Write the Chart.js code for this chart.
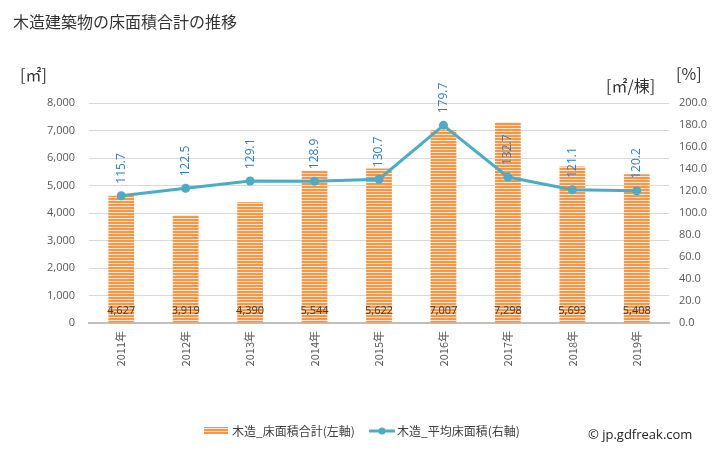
<!DOCTYPE html>
<html><head><meta charset="utf-8">
<script src="https://cdn.jsdelivr.net/npm/chart.js@4.4.1/dist/chart.umd.min.js"></script>
<style>html,body{margin:0;padding:0;background:#fff;}#wrap{width:728px;height:450px;position:relative;}</style>
</head><body><div id="wrap"><canvas id="c" width="728" height="450"></canvas></div>
<script>
const categories = ["2011年","2012年","2013年","2014年","2015年","2016年","2017年","2018年","2019年"];
const floorArea = [4627,3919,4390,5544,5622,7007,7298,5693,5408];
const avgArea = [115.7,122.5,129.1,128.9,130.7,179.7,132.7,121.1,120.2];
const leftTicks = [0,1000,2000,3000,4000,5000,6000,7000,8000];
const rightTicks = [0,20,40,60,80,100,120,140,160,180,200];
const titleText = "木造建築物の床面積合計の推移";
const barLabel = "木造_床面積合計(左軸)";
const lineLabel = "木造_平均床面積(右軸)";

const FONT = "'Noto Sans CJK JP','Noto Sans',sans-serif";
const NUMFONT = "'Open Sans','Noto Sans',sans-serif";

function stripe(){
  const p = document.createElement('canvas'); p.width=4; p.height=3;
  const g = p.getContext('2d');
  g.fillStyle='#fde3cc'; g.fillRect(0,0,4,3);
  g.fillStyle='#f79646'; g.fillRect(0,0,4,2);
  return g.createPattern(p,'repeat');
}
const pat = stripe();

const decor = {
  id:'decor',
  afterDatasetsDraw(chart){
    const ctx = chart.ctx;
    ctx.save();
    const bm = chart.getDatasetMeta(1);
    ctx.font = "11px "+NUMFONT; ctx.fillStyle='#404040'; ctx.textAlign='center'; ctx.textBaseline='middle';
    bm.data.forEach((b,i)=>{ ctx.fillText(floorArea[i].toLocaleString('en-US'), b.x, 311); });
    const lm = chart.getDatasetMeta(0);
    ctx.font = "12px "+NUMFONT; ctx.fillStyle='#2a7fc4'; ctx.textAlign='left'; ctx.textBaseline='middle';
    lm.data.forEach((p,i)=>{
      ctx.save(); ctx.translate(p.x, p.y-12); ctx.rotate(-Math.PI/2);
      ctx.fillText(avgArea[i].toFixed(1), 0, 0); ctx.restore();
    });
    ctx.restore();
  },
  afterDraw(chart){
    const ctx = chart.ctx;
    ctx.save();
    ctx.fillStyle='#333'; ctx.font="16px "+FONT; ctx.textBaseline='middle'; ctx.textAlign='left';
    ctx.fillText(titleText, 13, 22);
    ctx.font="16px "+FONT; ctx.fillStyle='#333';
    ctx.fillText("[㎡]", 20, 75);
    ctx.fillText("[㎡/棟]", 606, 86);
    ctx.fillText("[%]", 676, 74);
    ctx.fillStyle=pat; ctx.fillRect(204,427,24,7);
    ctx.font="12px "+FONT; ctx.fillStyle='#404040';
    ctx.fillText(barLabel, 232, 431);
    ctx.strokeStyle='#4bacc6'; ctx.lineWidth=3; ctx.beginPath(); ctx.moveTo(369,431); ctx.lineTo(395,431); ctx.stroke();
    ctx.fillStyle='#4bacc6'; ctx.beginPath(); ctx.arc(382,431,3.5,0,Math.PI*2); ctx.fill();
    ctx.fillStyle='#404040';
    ctx.fillText(lineLabel, 397, 431);
    ctx.font="13px "+NUMFONT; ctx.fillStyle='#222';
    ctx.fillText("© jp.gdfreak.com", 588, 435);
    ctx.restore();
  }
};

new Chart(document.getElementById('c'), {
  data:{
    labels:categories,
    datasets:[
      {type:'line', label:lineLabel, data:avgArea, yAxisID:'y2', borderColor:'#4bacc6', backgroundColor:'#4bacc6', borderWidth:3, pointRadius:4.5, pointBackgroundColor:'#4bacc6', pointBorderWidth:0, tension:0, order:0},
      {type:'bar', label:barLabel, data:floorArea, yAxisID:'y', backgroundColor:pat, borderWidth:0, categoryPercentage:1, barPercentage:0.4, order:1}
    ]
  },
  options:{
    responsive:false, animation:false,
    layout:{padding:{top:103,left:0,right:0,bottom:0}},
    plugins:{legend:{display:false}, tooltip:{enabled:false}},
    scales:{
      x:{
        grid:{display:false, drawTicks:false},
        border:{color:'#bfbfbf', width:2},
        ticks:{color:'#595959', font:{size:11, family:FONT}, maxRotation:90, minRotation:90, padding:8},
        afterFit(s){ s.height = 127; }
      },
      y:{
        position:'left', min:0, max:8000,
        afterBuildTicks(s){ s.ticks = leftTicks.map(v=>({value:v})); },
        grid:{color:'#d9d9d9', drawTicks:false},
        border:{display:false},
        ticks:{color:'#595959', font:{size:11, family:NUMFONT}, padding:14, callback:v=>v.toLocaleString('en-US')},
        afterFit(s){ s.width = 89; }
      },
      y2:{
        position:'right', min:0, max:200,
        afterBuildTicks(s){ s.ticks = rightTicks.map(v=>({value:v})); },
        grid:{display:false, drawTicks:false},
        border:{display:false},
        ticks:{color:'#595959', font:{size:11, family:NUMFONT}, padding:10, callback:v=>v.toFixed(1)},
        afterFit(s){ s.width = 59; }
      }
    }
  },
  plugins:[decor]
});
</script></body></html>
